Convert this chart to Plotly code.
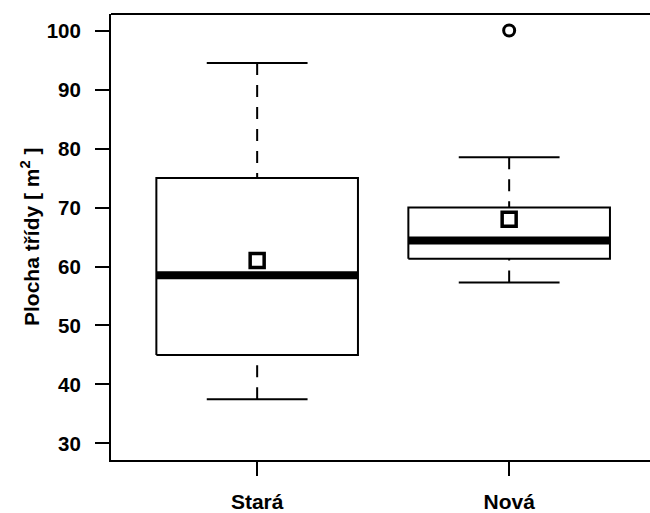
import plotly.graph_objects as go

# Summary statistics per school building (classroom floor area, m²)
categories = ["Stará", "Nová"]
lower_whisker = [37.5, 57.3]
q1 = [45.0, 61.3]
median = [58.5, 64.4]
q3 = [75.0, 70.0]
upper_whisker = [94.5, 78.5]
means = [61.0, 68.0]
outliers = [[], [100.0]]

y_ticks = [30, 40, 50, 60, 70, 80, 90, 100]

FONT = "Liberation Sans, Arial, Helvetica, sans-serif"
BOX_HALF = 0.4
CAP_HALF = 0.2

fig = go.Figure()

for i, name in enumerate(categories):
    x0 = i + 1
    line = dict(color="black", width=2)
    # dashed whiskers, drawn from the staple towards the hinge
    for end, hinge in ((upper_whisker[i], q3[i]), (lower_whisker[i], q1[i])):
        fig.add_trace(go.Scatter(
            x=[x0, x0], y=[end, hinge], mode="lines",
            line=dict(color="black", width=2, dash="12px,10px"),
            hoverinfo="skip", showlegend=False))
        fig.add_trace(go.Scatter(
            x=[x0 - CAP_HALF, x0 + CAP_HALF], y=[end, end], mode="lines",
            line=line, hoverinfo="skip", showlegend=False))
    # box
    fig.add_trace(go.Scatter(
        x=[x0 - BOX_HALF, x0 + BOX_HALF, x0 + BOX_HALF, x0 - BOX_HALF, x0 - BOX_HALF],
        y=[q1[i], q1[i], q3[i], q3[i], q1[i]],
        mode="lines", line=line, fill="toself", fillcolor="white",
        hoverinfo="skip", showlegend=False))
    # median
    fig.add_trace(go.Scatter(
        x=[x0 - BOX_HALF, x0 + BOX_HALF], y=[median[i], median[i]], mode="lines",
        line=dict(color="black", width=8), hoverinfo="skip", showlegend=False))
    # mean
    fig.add_trace(go.Scatter(
        x=[x0], y=[means[i]], mode="markers",
        marker=dict(symbol="square", size=14, color="white",
                    line=dict(color="black", width=3.5)),
        hoverinfo="skip", showlegend=False))
    # outliers
    if outliers[i]:
        fig.add_trace(go.Scatter(
            x=[x0] * len(outliers[i]), y=outliers[i], mode="markers",
            marker=dict(symbol="circle", size=11, color="white",
                        line=dict(color="black", width=3)),
            hoverinfo="skip", showlegend=False))

fig.update_layout(
    width=650, height=513,
    margin=dict(l=111, r=0, t=14, b=53),
    plot_bgcolor="white", paper_bgcolor="white",
    font=dict(family=FONT, size=20, color="black", weight="bold"),
    xaxis=dict(
        range=[0.42, 0.42 + 539 / 252],
        tickvals=[i + 1 for i in range(len(categories))],
        ticktext=categories,
        ticks="outside", ticklen=14, tickwidth=2, tickcolor="black",
        showline=True, linewidth=2, linecolor="black",
        showgrid=False, zeroline=False, ticklabelstandoff=8,
        tickfont=dict(size=21),
    ),
    yaxis=dict(
        range=[27.2, 102.8],
        tickvals=y_ticks,
        ticks="outside", ticklen=14, tickwidth=2, tickcolor="black",
        showline=True, linewidth=2, linecolor="black",
        showgrid=False, zeroline=False, ticklabelstandoff=10,
        tickfont=dict(size=20.5),
    ),
    shapes=[dict(type="line", xref="paper", yref="paper", x0=0, x1=1, y0=1, y1=1,
                 line=dict(color="black", width=2))],
    annotations=[dict(
        text="Plocha třídy [ m<sup>2</sup> ]", textangle=-90,
        xref="paper", yref="paper", x=0, y=0.5, xshift=-81,
        xanchor="center", yanchor="middle", showarrow=False,
        font=dict(family=FONT, size=21, color="black", weight="bold"),
    )],
)

fig.write_html("out.html")
